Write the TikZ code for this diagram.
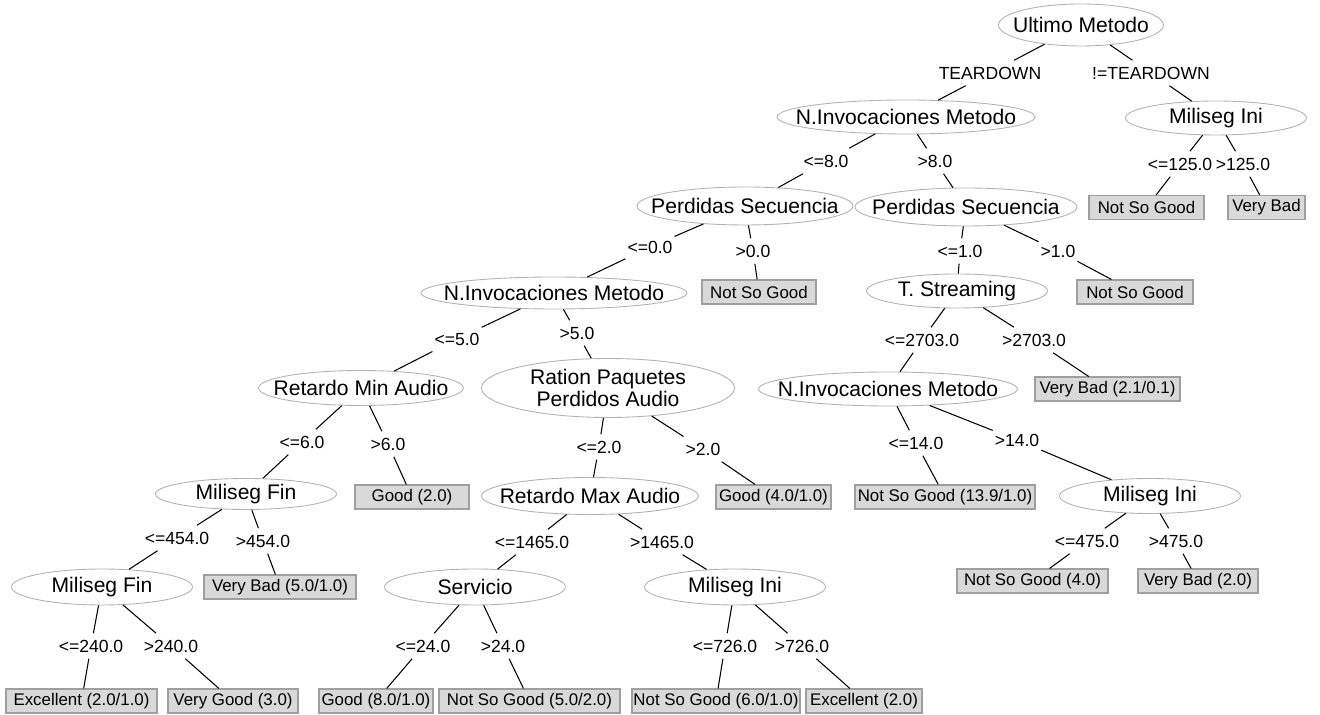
\documentclass[tikz,border=0pt]{standalone}
\usepackage{fontspec}
\setmainfont{Liberation Sans}
\usepackage{tikz}
\usetikzlibrary{shapes.geometric}

% text of an attribute node takes no room, the ellipse size is set by hand
\newcommand{\attrtext}[1]{\makebox[0pt]{#1}}

\begin{document}
\begin{tikzpicture}[
    x=0.02cm, y=-0.02cm,
    % attribute (test) nodes
    attr node/.style={ellipse, draw=gray!60, line width=0.5pt, inner sep=0pt,
      minimum width=#1, minimum height=0.68cm, font=\fontsize{12}{14}\selectfont},
    % class (leaf) nodes
    leaf node/.style={rectangle, draw=gray!75, fill=gray!30, line width=0.6pt, inner sep=0pt,
      minimum width=#1, minimum height=0.48cm, font=\fontsize{9.6}{11}\selectfont},
    % split values on the branches
    split label/.style={inner xsep=1pt, inner ysep=3.5pt, font=\fontsize{10}{12}\selectfont},
    tree edge/.style={draw=black, line width=0.6pt}
  ]
  \useasboundingbox (0,0) rectangle (1320,715);

  % --- Attribute nodes ---
  \node[attr node=3.30cm, minimum height=0.84cm] (root) at (1081,25)  {\attrtext{Ultimo Metodo}};
  \node[attr node=5.16cm] (ni1)  at (906,117)  {\attrtext{N.Invocaciones Metodo}};
  \node[attr node=3.62cm] (mi1)  at (1216,118) {\attrtext{Miliseg Ini}};
  \node[attr node=4.32cm, minimum height=0.76cm] (psl) at (745,206) {\attrtext{Perdidas Secuencia}};
  \node[attr node=4.44cm, minimum height=0.76cm] (psr) at (966,207) {\attrtext{Perdidas Secuencia}};
  \node[attr node=5.32cm, minimum height=0.64cm] (ni2) at (554,293) {\attrtext{N.Invocaciones Metodo}};
  \node[attr node=3.62cm] (ts)   at (957,291)  {\attrtext{T. Streaming}};
  \node[attr node=4.10cm, minimum height=0.70cm] (rmin) at (361,388) {\attrtext{Retardo Min Audio}};
  \node[attr node=5.06cm, minimum height=1.18cm] (rpp) at (608,388)
    {\attrtext{\shortstack{Ration Paquetes\\[-1.6pt]Perdidos Audio}}};
  \node[attr node=5.18cm] (ni3)  at (888,389)  {\attrtext{N.Invocaciones Metodo}};
  \node[attr node=3.62cm, minimum height=0.62cm] (mf1) at (246,494) {\attrtext{Miliseg Fin}};
  \node[attr node=4.34cm, minimum height=0.74cm] (rmax) at (590,496) {\attrtext{Retardo Max Audio}};
  \node[attr node=3.62cm, minimum height=0.70cm] (mi3) at (1150,496) {\attrtext{Miliseg Ini}};
  \node[attr node=3.62cm, minimum height=0.72cm] (mf2) at (102,587) {\attrtext{Miliseg Fin}};
  \node[attr node=3.62cm, minimum height=0.72cm] (serv) at (475,587) {\attrtext{Servicio}};
  \node[attr node=3.62cm, minimum height=0.72cm] (mi2) at (735,587) {\attrtext{Miliseg Ini}};

  % --- Leaves ---
  \node[leaf node=2.30cm] (nsg1)  at (1146.5,207.5) {Not So Good};
  \node[leaf node=1.54cm] (vb1)   at (1266.5,207.5) {Very Bad};
  \node[leaf node=2.28cm] (nsg2)  at (759,292)      {Not So Good};
  \node[leaf node=2.32cm] (nsg3)  at (1135,292)     {Not So Good};
  \node[leaf node=2.90cm] (vb2)   at (1107.5,389)   {Very Bad (2.1/0.1)};
  \node[leaf node=2.28cm] (good1) at (412,497)       {Good (2.0)};
  \node[leaf node=2.30cm] (good2) at (773.5,497)     {Good (4.0/1.0)};
  \node[leaf node=3.60cm] (nsg4)  at (945,497)       {Not So Good (13.9/1.0)};
  \node[leaf node=3.04cm] (vb3)   at (280,587)       {Very Bad (5.0/1.0)};
  \node[leaf node=3.02cm] (nsg5)  at (1032.5,581)    {Not So Good (4.0)};
  \node[leaf node=2.40cm] (vb4)   at (1198,581)      {Very Bad (2.0)};
  \node[leaf node=3.02cm] (exc1)  at (81.5,701)      {Excellent (2.0/1.0)};
  \node[leaf node=2.60cm] (vg)    at (233,701)       {Very Good (3.0)};
  \node[leaf node=2.28cm] (good3) at (376,701)       {Good (8.0/1.0)};
  \node[leaf node=3.62cm] (nsg6)  at (529.5,701)     {Not So Good (5.0/2.0)};
  \node[leaf node=3.36cm] (nsg7)  at (716,701)       {Not So Good (6.0/1.0)};
  \node[leaf node=2.32cm] (exc2)  at (864,701)       {Excellent (2.0)};

  % --- Split labels ---
  \node[split label] (root-l) at (990,73)   {TEARDOWN};
  \node[split label] (root-r) at (1151,73)  {!=TEARDOWN};
  \node[split label] (ni1-l)  at (826,161)  {<=8.0};
  \node[split label] (ni1-r)  at (935,161)  {>8.0};
  \node[split label] (mi1-l)  at (1180,164) {<=125.0};
  \node[split label] (mi1-r)  at (1243,164) {>125.0};
  \node[split label] (psl-l)  at (650,247)  {<=0.0};
  \node[split label] (psl-r)  at (753,251)  {>0.0};
  \node[split label] (psr-l)  at (960,251)  {<=1.0};
  \node[split label] (psr-r)  at (1058,251) {>1.0};
  \node[split label] (ni2-l)  at (457,339)  {<=5.0};
  \node[split label] (ni2-r)  at (577,333)  {>5.0};
  \node[split label] (ts-l)   at (922,340)  {<=2703.0};
  \node[split label] (ts-r)   at (1034,340) {>2703.0};
  \node[split label] (rmin-l) at (302,442)  {<=6.0};
  \node[split label] (rmin-r) at (388,444)  {>6.0};
  \node[split label] (rpp-l)  at (599,447)  {<=2.0};
  \node[split label] (rpp-r)  at (703,449)  {>2.0};
  \node[split label] (ni3-l)  at (916,443)  {<=14.0};
  \node[split label] (ni3-r)  at (1017,440) {>14.0};
  \node[split label] (mf1-l)  at (177,538)  {<=454.0};
  \node[split label] (mf1-r)  at (263,541)  {>454.0};
  \node[split label] (rmax-l) at (532,542)  {<=1465.0};
  \node[split label] (rmax-r) at (662,542)  {>1465.0};
  \node[split label] (mi3-l)  at (1087,541) {<=475.0};
  \node[split label] (mi3-r)  at (1176,541) {>475.0};
  \node[split label] (mf2-l)  at (91,646)   {<=240.0};
  \node[split label] (mf2-r)  at (171,646)  {>240.0};
  \node[split label] (serv-l) at (423,646)  {<=24.0};
  \node[split label] (serv-r) at (503,646)  {>24.0};
  \node[split label] (mi2-l)  at (725,646)  {<=726.0};
  \node[split label] (mi2-r)  at (802,646)  {>726.0};

  % --- Branches ---
  \begin{scope}[tree edge]
    \draw (root) -- (root-l) -- (ni1);
    \draw (root) -- (root-r) -- (mi1);
    \draw (ni1) -- (ni1-l) -- (psl);
    \draw (ni1) -- (ni1-r) -- (psr);
    \draw (mi1) -- (mi1-l) -- (nsg1);
    \draw (mi1) -- (mi1-r) -- (vb1);
    \draw (psl) -- (psl-l) -- (ni2);
    \draw (psl) -- (psl-r) -- (nsg2);
    \draw (psr) -- (psr-l) -- (ts);
    \draw (psr) -- (psr-r) -- (nsg3);
    \draw (ni2) -- (ni2-l) -- (rmin);
    \draw (ni2) -- (ni2-r) -- (rpp);
    \draw (ts) -- (ts-l) -- (ni3);
    \draw (ts) -- (ts-r) -- (vb2);
    \draw (rmin) -- (rmin-l) -- (mf1);
    \draw (rmin) -- (rmin-r) -- (good1);
    \draw (rpp) -- (rpp-l) -- (rmax);
    \draw (rpp) -- (rpp-r) -- (good2);
    \draw (ni3) -- (ni3-l) -- (nsg4);
    \draw (ni3) -- (ni3-r) -- (mi3);
    \draw (mf1) -- (mf1-l) -- (mf2);
    \draw (mf1) -- (mf1-r) -- (vb3);
    \draw (rmax) -- (rmax-l) -- (serv);
    \draw (rmax) -- (rmax-r) -- (mi2);
    \draw (mi3) -- (mi3-l) -- (nsg5);
    \draw (mi3) -- (mi3-r) -- (vb4);
    \draw (mf2) -- (mf2-l) -- (exc1);
    \draw (mf2) -- (mf2-r) -- (vg);
    \draw (serv) -- (serv-l) -- (good3);
    \draw (serv) -- (serv-r) -- (nsg6);
    \draw (mi2) -- (mi2-l) -- (nsg7);
    \draw (mi2) -- (mi2-r) -- (exc2);
  \end{scope}

\end{tikzpicture}
\end{document}
